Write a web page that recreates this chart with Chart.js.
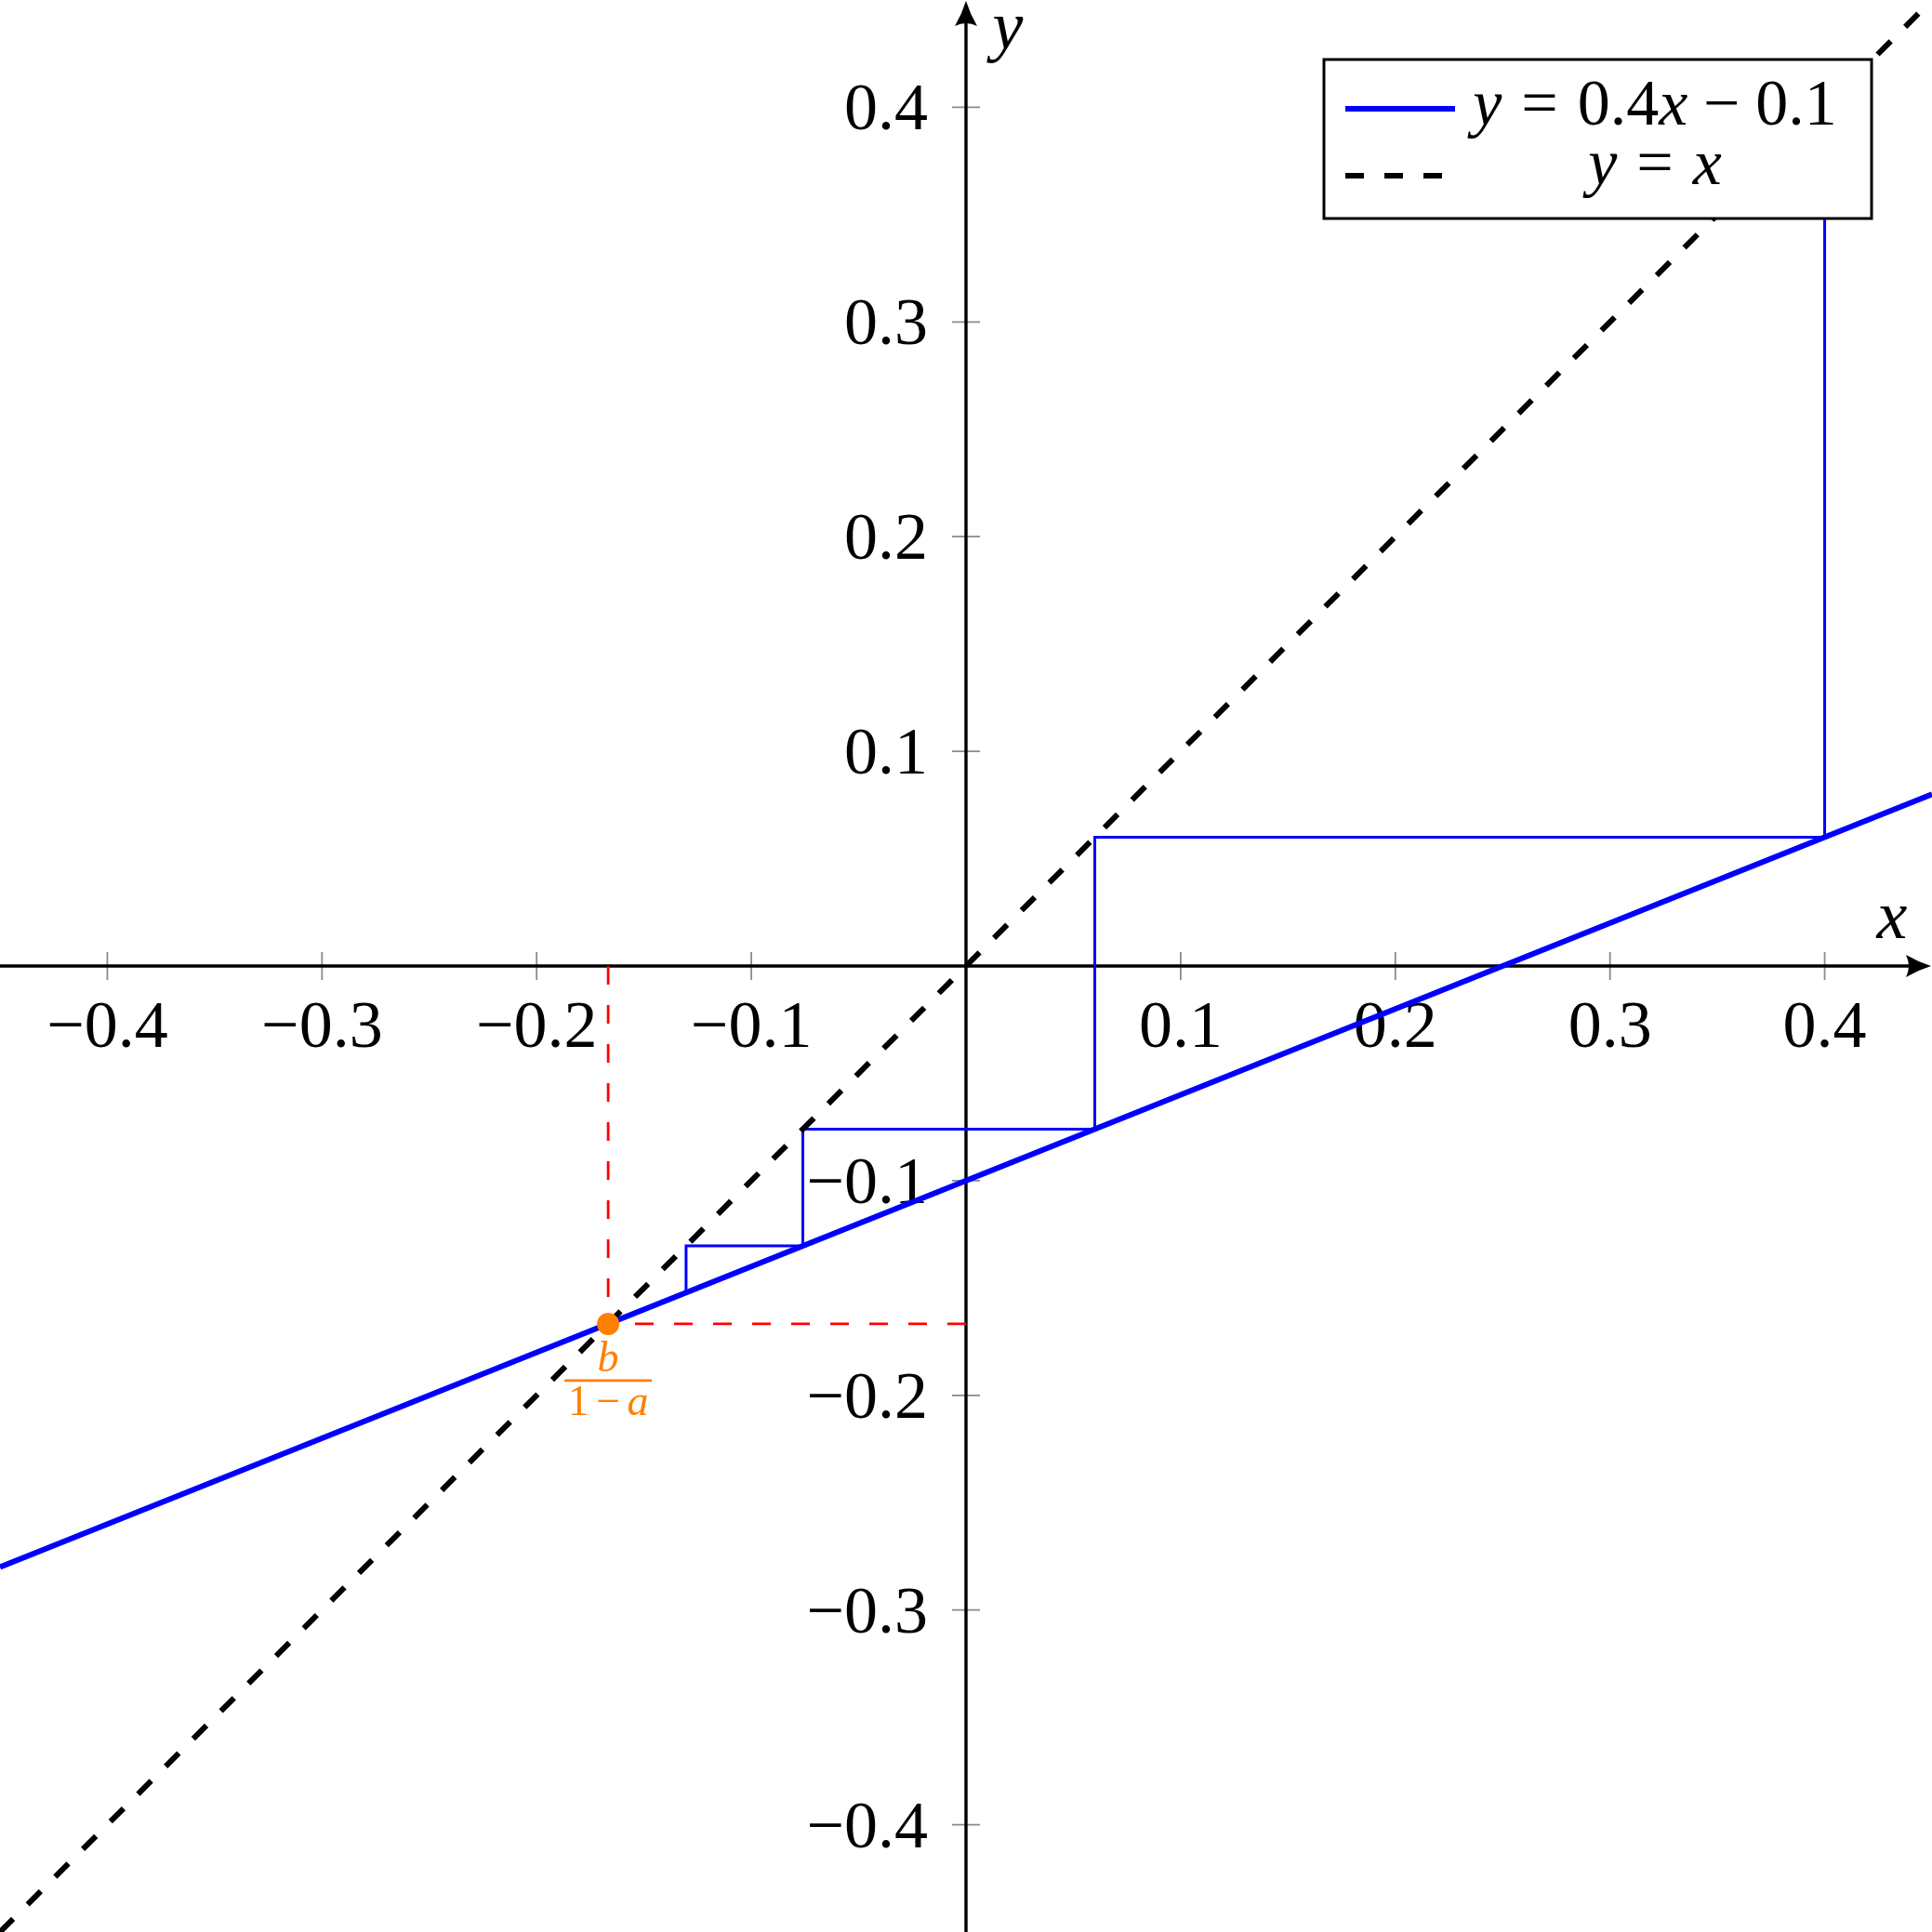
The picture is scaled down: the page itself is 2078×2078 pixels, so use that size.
<!DOCTYPE html>
<html>
<head>
<meta charset="utf-8">
<script src="https://cdn.jsdelivr.net/npm/chart.js@4.4.1/dist/chart.umd.min.js"></script>
<style>
  html, body { margin: 0; padding: 0; background: #fff; }
  #wrap { width: 2078px; height: 2078px; }
</style>
</head>
<body>
<div id="wrap"><canvas id="myChart" width="2078" height="2078"></canvas></div>
<script>
// values
const xTicks = [-0.4, -0.3, -0.2, -0.1, 0.1, 0.2, 0.3, 0.4];
const yTicks = [-0.4, -0.3, -0.2, -0.1, 0.1, 0.2, 0.3, 0.4];
const xTickLabels = ['−0.4', '−0.3', '−0.2', '−0.1', '0.1', '0.2', '0.3', '0.4'];
const yTickLabels = ['−0.4', '−0.3', '−0.2', '−0.1', '0.1', '0.2', '0.3', '0.4'];

// y = 0.4x - 0.1 across the window
const lineX = [-0.45, 0.45];
const lineY = [-0.28, 0.08];
// y = x
const diagX = [-0.45, 0.45];
const diagY = [-0.45, 0.45];
// cobweb steps
const cobX = [0.4, 0.4, 0.06, 0.06, -0.076, -0.076, -0.1304, -0.1304];
const cobY = [0.4, 0.06, 0.06, -0.076, -0.076, -0.1304, -0.1304, -0.1522];
// fixed point b/(1-a)
const fixedX = [-0.1667];
const fixedY = [-0.1667];
// red guide lines to the axes
const guideVX = [-0.1667, -0.1667];
const guideVY = [0, -0.1667];
const guideHX = [0, -0.1667];
const guideHY = [-0.1667, -0.1667];

const SERIF = '"Liberation Serif", "DejaVu Serif", serif';
const BLUE = '#0000ff';
const ORANGE = '#ff8000';
const RED = '#ff0000';

function pts(xs, ys) {
  return xs.map((x, i) => ({ x: x, y: ys[i] }));
}

// draw a run of math-like text: items are {t, it} or {gap} (gap in em)
function drawRuns(ctx, runs, x, y, size, align) {
  let total = 0;
  const widths = runs.map(r => {
    if (r.gap !== undefined) return r.gap * size;
    ctx.font = (r.it ? 'italic ' : '') + size + 'px ' + SERIF;
    return ctx.measureText(r.t).width;
  });
  widths.forEach(w => total += w);
  let cx = x;
  if (align === 'center') cx = x - total / 2;
  if (align === 'right') cx = x - total;
  ctx.textAlign = 'left';
  ctx.textBaseline = 'alphabetic';
  runs.forEach((r, i) => {
    if (r.gap === undefined) {
      ctx.font = (r.it ? 'italic ' : '') + size + 'px ' + SERIF;
      ctx.fillText(r.t, cx, y);
    }
    cx += widths[i];
  });
}

function arrowHead(ctx, x, y, dx, dy) {
  const L = 27, W = 12;
  const nx = -dy, ny = dx;
  const bx = x - dx * L, by = y - dy * L;
  ctx.beginPath();
  ctx.moveTo(x, y);
  ctx.quadraticCurveTo(x - dx * L * 0.5 + nx * W * 0.35, y - dy * L * 0.5 + ny * W * 0.35, bx + nx * W, by + ny * W);
  ctx.quadraticCurveTo(x - dx * L * 0.78, y - dy * L * 0.78, bx - nx * W, by - ny * W);
  ctx.quadraticCurveTo(x - dx * L * 0.5 - nx * W * 0.35, y - dy * L * 0.5 - ny * W * 0.35, x, y);
  ctx.closePath();
  ctx.fill();
}

// centred axes, ticks and tick labels, drawn under the plots
const centredAxes = {
  id: 'centredAxes',
  beforeDatasetsDraw(chart) {
    const ctx = chart.ctx;
    const xs = chart.scales.x, ys = chart.scales.y;
    const area = chart.chartArea;
    const x0 = xs.getPixelForValue(0);
    const y0 = ys.getPixelForValue(0);
    ctx.save();

    // ticks
    ctx.strokeStyle = '#8a8a8a';
    ctx.lineWidth = 1.8;
    ctx.beginPath();
    xTicks.forEach(v => {
      const px = xs.getPixelForValue(v);
      ctx.moveTo(px, y0 - 15);
      ctx.lineTo(px, y0 + 15);
    });
    yTicks.forEach(v => {
      const py = ys.getPixelForValue(v);
      ctx.moveTo(x0 - 15, py);
      ctx.lineTo(x0 + 15, py);
    });
    ctx.stroke();

    // axis lines
    ctx.strokeStyle = '#000';
    ctx.fillStyle = '#000';
    ctx.lineWidth = 3.4;
    ctx.beginPath();
    ctx.moveTo(area.left, y0);
    ctx.lineTo(area.right - 14, y0);
    ctx.moveTo(x0, area.bottom);
    ctx.lineTo(x0, area.top + 14);
    ctx.stroke();
    arrowHead(ctx, area.right - 1, y0, 1, 0);
    arrowHead(ctx, x0, area.top + 1, 0, -1);

    // tick labels
    ctx.fillStyle = '#000';
    xTicks.forEach((v, i) => {
      drawRuns(ctx, [{ t: xTickLabels[i] }], xs.getPixelForValue(v), y0 + 87, 72, 'center');
    });
    yTicks.forEach((v, i) => {
      drawRuns(ctx, [{ t: yTickLabels[i] }], x0 - 41, ys.getPixelForValue(v) + 24, 72, 'right');
    });

    // axis names
    drawRuns(ctx, [{ t: 'x', it: true }], area.right - 43, y0 - 30, 74, 'center');
    drawRuns(ctx, [{ t: 'y', it: true }], x0 + 45, area.top + 52, 74, 'center');
    ctx.restore();
  }
};

// legend box and the fraction label, drawn over the plots
const overlay = {
  id: 'overlay',
  afterDatasetsDraw(chart) {
    const ctx = chart.ctx;
    const xs = chart.scales.x, ys = chart.scales.y;
    const area = chart.chartArea;
    ctx.save();

    // fixed point label b / (1 - a)
    const fx = xs.getPixelForValue(fixedX[0]);
    const fy = ys.getPixelForValue(fixedY[0]);
    ctx.fillStyle = ORANGE;
    ctx.strokeStyle = ORANGE;
    drawRuns(ctx, [{ t: 'b', it: true }], fx, fy + 51, 46, 'center');
    ctx.lineWidth = 2.6;
    ctx.beginPath();
    ctx.moveTo(fx - 47, fy + 61);
    ctx.lineTo(fx + 47, fy + 61);
    ctx.stroke();
    drawRuns(ctx, [{ t: '1' }, { gap: 0.16 }, { t: '−' }, { gap: 0.16 }, { t: 'a', it: true }], fx, fy + 98, 46, 'center');

    // legend
    const left = area.right - 654, right = area.right - 65;
    const top = area.top + 64, bottom = area.top + 235;
    ctx.fillStyle = '#fff';
    ctx.fillRect(left, top, right - left, bottom - top);
    ctx.strokeStyle = '#000';
    ctx.lineWidth = 3;
    ctx.strokeRect(left, top, right - left, bottom - top);

    ctx.lineWidth = 6;
    ctx.strokeStyle = BLUE;
    ctx.beginPath();
    ctx.moveTo(left + 23, top + 53);
    ctx.lineTo(left + 141, top + 53);
    ctx.stroke();

    ctx.strokeStyle = '#000';
    ctx.setLineDash([20, 22]);
    ctx.beginPath();
    ctx.moveTo(left + 23, top + 125);
    ctx.lineTo(left + 127, top + 125);
    ctx.stroke();
    ctx.setLineDash([]);

    ctx.fillStyle = '#000';
    const cx = left + 356;
    drawRuns(ctx, [
      { t: 'y', it: true }, { gap: 0.3 }, { t: '=' }, { gap: 0.3 },
      { t: '0.4' }, { t: 'x', it: true }, { gap: 0.24 }, { t: '−' }, { gap: 0.24 }, { t: '0.1' }
    ], cx, top + 70, 70, 'center');
    drawRuns(ctx, [
      { t: 'y', it: true }, { gap: 0.3 }, { t: '=' }, { gap: 0.3 }, { t: 'x', it: true }
    ], cx, top + 134, 70, 'center');

    ctx.restore();
  }
};

const ctx = document.getElementById('myChart').getContext('2d');
const cobwebChart = new Chart(ctx, {
  type: 'scatter',
  data: {
    datasets: [
      {
        label: 'fixed point',
        data: pts(fixedX, fixedY),
        showLine: false,
        pointRadius: 12,
        pointBackgroundColor: ORANGE,
        pointBorderWidth: 0,
        order: 0
      },
      {
        label: 'y = 0.4x − 0.1',
        data: pts(lineX, lineY),
        showLine: true,
        borderColor: BLUE,
        borderWidth: 6,
        pointRadius: 0,
        order: 1
      },
      {
        label: 'y = x',
        data: pts(diagX, diagY),
        showLine: true,
        borderColor: '#000',
        borderWidth: 6,
        borderDash: [20, 22],
        pointRadius: 0,
        order: 2
      },
      {
        label: 'cobweb',
        data: pts(cobX, cobY),
        showLine: true,
        borderColor: BLUE,
        borderWidth: 3,
        pointRadius: 0,
        order: 3
      },
      {
        label: 'guide v',
        data: pts(guideVX, guideVY),
        showLine: true,
        borderColor: RED,
        borderWidth: 2.8,
        borderDash: [20, 22],
        pointRadius: 0,
        order: 4
      },
      {
        label: 'guide h',
        data: pts(guideHX, guideHY),
        showLine: true,
        borderColor: RED,
        borderWidth: 2.8,
        borderDash: [20, 22],
        pointRadius: 0,
        order: 4
      }
    ]
  },
  options: {
    responsive: false,
    animation: false,
    devicePixelRatio: 1,
    layout: { autoPadding: false, padding: 0 },
    scales: {
      x: { type: 'linear', min: -0.45, max: 0.45, display: false },
      y: { type: 'linear', min: -0.45, max: 0.45, display: false }
    },
    plugins: {
      legend: { display: false },
      tooltip: { enabled: false }
    }
  },
  plugins: [centredAxes, overlay]
});
</script>
</body>
</html>
